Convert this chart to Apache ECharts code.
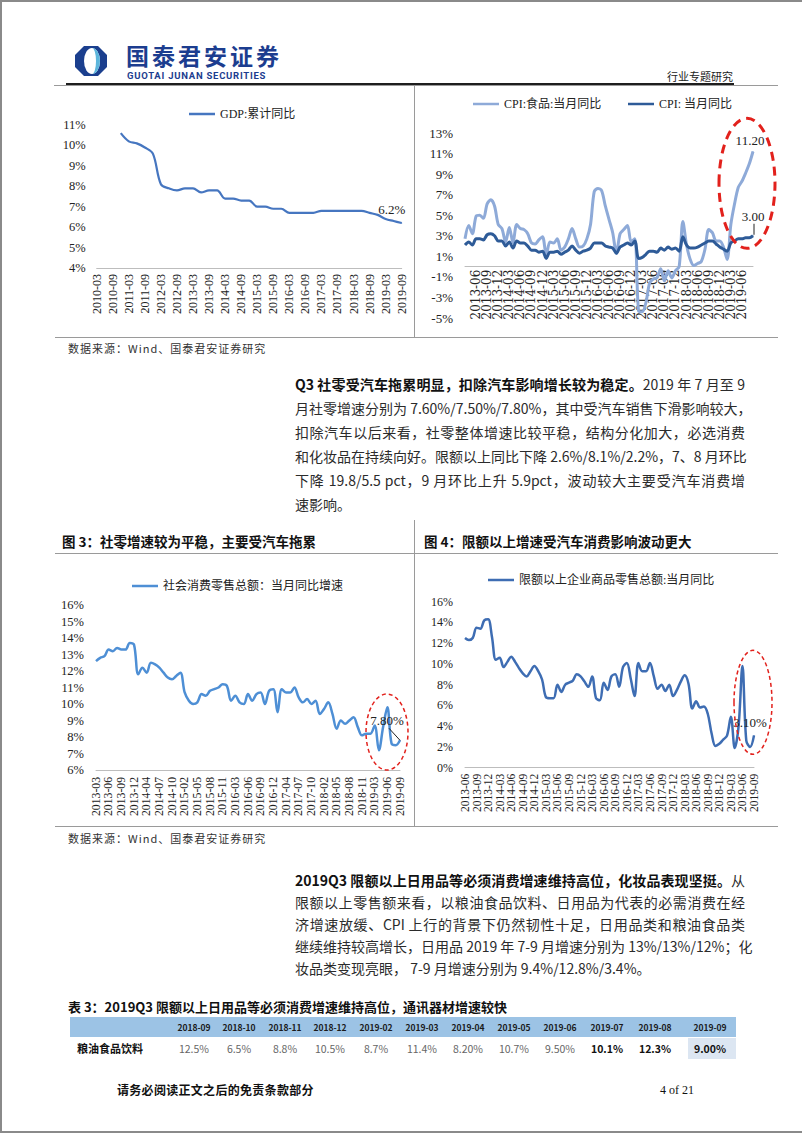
<!DOCTYPE html>
<html lang="zh-CN">
<head>
<meta charset="utf-8">
<title>行业专题研究</title>
<script src="https://cdn.jsdelivr.net/npm/echarts@6/dist/echarts.min.js"></script>
<style>
html,body{margin:0;padding:0;background:#fff;}
#page{position:relative;width:802px;height:1133px;overflow:hidden;background:#fff;font-family:"Noto Sans CJK SC","Noto Sans",sans-serif;color:#222;}
.h{position:absolute;height:1px;background:#9a9a9a;z-index:5;}
.v{position:absolute;width:1px;background:#9a9a9a;z-index:5;}
.t{position:absolute;white-space:nowrap;}
.src{position:absolute;left:68px;font-size:11px;color:#333;letter-spacing:1px;line-height:14px;white-space:nowrap;}
.para{position:absolute;left:295px;width:450px;font-size:14px;color:#2b2b2b;}
.para div{line-height:24px;height:24px;white-space:nowrap;text-align:justify;text-align-last:justify;}
.para.p2 div{line-height:22px;height:22px;}
.para div.last{text-align-last:left;}
.para b{color:#111;font-weight:700;}
.ftitle{position:absolute;top:532px;font-size:13.5px;font-weight:700;color:#111;letter-spacing:0px;line-height:18px;white-space:nowrap;}
.chart{position:absolute;}
.th{position:absolute;top:1017px;width:56px;margin-left:-28px;text-align:center;font-size:8.5px;font-weight:700;color:#1a1a1a;line-height:20px;}
.td{position:absolute;top:1038px;width:56px;margin-left:-28px;text-align:center;font-size:10.5px;color:#666;line-height:21px;}
.td.b{color:#111;font-weight:700;}
</style>
</head>
<body>
<div id="page">
  <!-- page frame -->
  <div class="h" style="left:0;top:0;width:802px;height:2px;background:#8a8a8a"></div>
  <div class="v" style="left:0;top:0;height:1133px;width:2px;background:#8a8a8a"></div>
  <div class="h" style="left:0;top:1131px;width:802px;height:2px;background:#8a8a8a"></div>

  <!-- header -->
  <svg style="position:absolute;left:74px;top:45px" width="34" height="32" viewBox="0 0 34 32">
    <polygon points="10,1 24,1 33,10 33,22 24,31 10,31 1,22 1,10" fill="#1b3f8e"/>
    <ellipse cx="18" cy="16" rx="8" ry="13" fill="#ffffff"/>
    <path d="M18,3 A8,13 0 0,1 18,29 A4,13 0 0,0 18,3 Z" fill="#5db6dc"/>
  </svg>
  <div class="t" style="left:126px;top:43px;font-size:23px;line-height:25px;font-weight:700;color:#1c3d8f;letter-spacing:3px">国泰君安证券</div>
  <div class="t" style="left:127px;top:71px;font-size:9.5px;line-height:10px;font-weight:700;color:#1c3d8f;letter-spacing:0.75px;font-family:Roboto,'Noto Sans',sans-serif">GUOTAI JUNAN SECURITIES</div>
  <div class="t" style="left:667px;top:69px;font-size:11px;line-height:14px;color:#222">行业专题研究</div>
  <div class="h" style="left:66px;top:83px;width:668px;height:2px;background:#1e1e1e"></div>
  <div class="h" style="left:54px;top:85px;width:724px;"></div>

  <!-- top charts frame -->
  <div class="v" style="left:414px;top:86px;height:251px"></div>
  <div class="h" style="left:55px;top:337px;width:723px"></div>
  <div id="c1" class="chart" style="left:60px;top:88px;width:352px;height:250px"></div>
  <div id="c2" class="chart" style="left:410px;top:88px;width:392px;height:250px"></div>

  <div class="src" style="top:341px">数据来源：Wind、国泰君安证券研究</div>

  <div class="para" style="top:372px">
    <div><b>Q3 社零受汽车拖累明显，扣除汽车影响增长较为稳定。</b>2019 年 7 月至 9</div>
    <div>月社零增速分别为 7.60%/7.50%/7.80%，其中受汽车销售下滑影响较大，</div>
    <div>扣除汽车以后来看，社零整体增速比较平稳，结构分化加大，必选消费</div>
    <div>和化妆品在持续向好。限额以上同比下降 2.6%/8.1%/2.2%，7、8 月环比</div>
    <div>下降 19.8/5.5 pct，9 月环比上升 5.9pct，波动较大主要受汽车消费增</div>
    <div class="last">速影响。</div>
  </div>

  <!-- figure 3 / 4 frame -->
  <div class="ftitle" style="left:62px">图 3：社零增速较为平稳，主要受汽车拖累</div>
  <div class="ftitle" style="left:424px">图 4：限额以上增速受汽车消费影响波动更大</div>
  <div class="h" style="left:55px;top:553px;width:723px"></div>
  <div class="v" style="left:414px;top:520px;height:306px"></div>
  <div class="h" style="left:55px;top:826px;width:723px"></div>
  <div id="c3" class="chart" style="left:55px;top:560px;width:357px;height:265px"></div>
  <div id="c4" class="chart" style="left:412px;top:560px;width:390px;height:265px"></div>

  <div class="src" style="top:831px">数据来源：Wind、国泰君安证券研究</div>

  <div class="para p2" style="top:869px">
    <div><b>2019Q3 限额以上日用品等必须消费增速维持高位，化妆品表现坚挺。</b>从</div>
    <div>限额以上零售额来看，以粮油食品饮料、日用品为代表的必需消费在经</div>
    <div>济增速放缓、CPI 上行的背景下仍然韧性十足，日用品类和粮油食品类</div>
    <div>继续维持较高增长，日用品 2019 年 7-9 月增速分别为 13%/13%/12%；化</div>
    <div class="last">妆品类变现亮眼， 7-9 月增速分别为 9.4%/12.8%/3.4%。</div>
  </div>

  <!-- table -->
  <div class="t" style="left:68px;top:998px;font-size:13px;line-height:18px;font-weight:700;color:#111;letter-spacing:0px">表 3：2019Q3 限额以上日用品等必须消费增速维持高位，通讯器材增速较快</div>
  <div style="position:absolute;left:70px;top:1017px;width:666px;height:20px;background:#9cc3e5"></div>
  <div style="position:absolute;left:688px;top:1038px;width:48px;height:21px;background:#dce6f2"></div>
  <div id="tbl"></div>
  <div class="t" style="left:77px;top:1040px;font-size:11px;line-height:17px;font-weight:700;color:#111">粮油食品饮料</div>

  <!-- footer -->
  <div class="t" style="left:117px;top:1082px;font-size:12px;line-height:16px;font-weight:700;color:#111;letter-spacing:0.3px">请务必阅读正文之后的免责条款部分</div>
  <div class="t" style="left:660px;top:1082px;font-size:12px;line-height:16px;color:#111;font-family:'Liberation Serif',serif">4 of 21</div>
</div>

<script>
// ---------------- data ----------------
const gdpQuarters = ['2010-03','2010-06','2010-09','2010-12','2011-03','2011-06','2011-09','2011-12',
  '2012-03','2012-06','2012-09','2012-12','2013-03','2013-06','2013-09','2013-12',
  '2014-03','2014-06','2014-09','2014-12','2015-03','2015-06','2015-09','2015-12',
  '2016-03','2016-06','2016-09','2016-12','2017-03','2017-06','2017-09','2017-12',
  '2018-03','2018-06','2018-09','2018-12','2019-03','2019-06','2019-09'];
const gdpYoY = [null,null,null,10.6, 10.2,10.1,9.9,9.6, 8.1,7.9,7.8,7.9, 7.9,7.7,7.8,7.8,
  7.4,7.4,7.3,7.3, 7.0,7.0,6.9,6.9, 6.7,6.7,6.7,6.7, 6.8,6.8,6.8,6.8, 6.8,6.8,6.7,6.6, 6.4,6.3,6.2];

function monthRange(y0, m0, y1, m1, skipJan) {
  const out = [];
  for (let y = y0, m = m0; y < y1 || (y === y1 && m <= m1); ) {
    if (!(skipJan && m === 1)) out.push(y + '-' + (m < 10 ? '0' + m : m));
    m++; if (m > 12) { m = 1; y++; }
  }
  return out;
}
const cpiMonths = monthRange(2013, 3, 2019, 9, false);      // 79
const cpiFood = [2.7,4.0,3.2,4.9,5.0,4.7,6.1,6.5,5.9,4.1,
  3.7,2.4,3.8,2.3,4.1,3.7,3.6,3.2,2.3,2.2,2.6,2.9,
  1.1,2.4,2.3,2.7,1.6,1.9,2.7,3.7,2.7,1.9,2.0,2.7,
  4.1,7.3,7.6,7.4,5.9,4.6,3.3,1.3,3.2,3.6,4.0,2.4,
  2.7,-4.3,-4.4,-3.5,-1.6,-1.2,-1.1,-0.2,-1.4,-0.4,-1.1,-0.4,
  0.0,4.4,2.1,0.7,0.1,0.3,0.5,1.7,3.6,3.3,2.5,2.5,
  1.9,0.7,4.1,6.1,7.7,8.3,9.1,10.0,11.2];
const cpiAll = [2.1,2.4,2.1,2.7,2.7,2.6,3.1,3.2,3.0,2.5,
  2.5,2.0,2.4,1.8,2.5,2.3,2.3,2.0,1.6,1.6,1.4,1.5,
  0.8,1.4,1.4,1.5,1.2,1.4,1.6,2.0,1.6,1.3,1.5,1.6,
  1.8,2.3,2.3,2.3,2.0,1.9,1.8,1.3,1.9,2.1,2.3,2.1,
  2.5,0.8,0.9,1.2,1.5,1.5,1.4,1.8,1.6,1.9,1.7,1.8,
  1.5,2.9,2.1,1.8,1.8,1.9,2.1,2.3,2.5,2.5,2.2,1.9,
  1.7,1.5,2.3,2.5,2.7,2.7,2.8,2.8,3.0];
const cpiTicks = [-5,-3,-1,1,3,5,7,9,11,13];

const retailMonths = monthRange(2013, 3, 2019, 9, true);    // 73, no January
const retailYoY = [12.6,12.8,12.9,13.3,13.2,13.4,13.3,13.3,13.7,13.6,
  11.8,12.2,11.9,12.5,12.4,12.2,11.9,11.6,11.5,11.7,11.9,
  10.7,10.2,10.0,10.1,10.6,10.5,10.8,10.9,11.0,11.2,11.1,
  10.2,10.5,10.1,10.0,10.6,10.2,10.6,10.7,10.0,10.8,10.9,
  9.5,10.9,10.7,10.7,11.0,10.4,10.1,10.3,10.0,10.2,9.4,
  9.7,10.1,9.4,8.5,9.0,8.8,9.0,9.2,8.6,8.1,8.2,
  8.2,8.7,7.2,8.6,9.8,7.6,7.5,7.8];

const aboveMonths = monthRange(2013, 6, 2019, 9, false);    // 76
const aboveYoY = [12.5,12.3,12.5,13.5,13.4,14.2,14.3,12.6,10.4,10.6,9.7,10.2,
  10.7,10.2,9.6,9.1,8.8,9.3,9.8,9.3,8.5,6.8,6.7,6.7,
  8.0,7.3,8.0,8.2,8.4,9.0,8.8,8.3,7.8,8.8,6.7,6.5,
  8.2,7.5,8.8,9.0,7.8,9.7,10.1,8.6,6.9,10.1,9.3,9.3,
  10.1,8.8,7.6,8.0,7.4,8.0,6.9,7.5,8.3,8.9,8.1,5.7,
  6.4,5.8,5.9,5.2,3.3,2.1,2.3,2.7,3.1,4.9,1.9,4.0,
  9.8,2.6,2.0,3.1];

const tableCols = ['2018-09','2018-10','2018-11','2018-12','2019-02','2019-03','2019-04','2019-05','2019-06','2019-07','2019-08','2019-09'];
const tableGrain = ['12.5%','6.5%','8.8%','10.5%','8.7%','11.4%','8.20%','10.7%','9.50%','10.1%','12.3%','9.00%'];
const tableBold = [false,false,false,false,false,false,false,false,false,true,true,true];

// ---------------- table ----------------
(function(){
  const xs = [194,239,285,330,376,422,468,514,560,607,655,710];
  let html = '';
  tableCols.forEach((c,i)=>{ html += '<div class="th" style="left:'+xs[i]+'px">'+c+'</div>'; });
  tableGrain.forEach((v,i)=>{ html += '<div class="td'+(tableBold[i]?' b':'')+'" style="left:'+xs[i]+'px">'+v+'</div>'; });
  document.getElementById('tbl').innerHTML = html;
})();

// ---------------- charts ----------------
const SERIF = '"Liberation Serif","Noto Sans CJK SC",serif';
const AXC = '#bdbdbd';
const RED = '#e2211c';

function series(name, values, color, width, smooth, endLabel, yAxisIndex) {
  const last = values.length - 1;
  return {
    name: name, type: 'line', smooth: smooth, symbol: 'none', showSymbol: true, showAllSymbol: true,
    yAxisIndex: yAxisIndex || 0,
    lineStyle: { color: color, width: width }, itemStyle: { color: color },
    emphasis: { disabled: true }, silent: true,
    data: values.map((v, i) => (i === last && endLabel)
      ? { value: v, symbol: 'circle', symbolSize: 1,
          label: Object.assign({ show: true, position: 'top', fontFamily: SERIF, fontSize: 13, color: '#222' }, endLabel) }
      : v)
  };
}
function legend(name, left, top) {
  return { data: [name], left: left, top: top, icon: 'rect', itemWidth: 26, itemHeight: 2.5,
    textStyle: { fontFamily: SERIF, fontSize: 12, color: '#222' }, selectedMode: false };
}
function xCat(cats, interval, fontSize, margin, family, offset) {
  return { type: 'category', data: cats, boundaryGap: false, position: 'bottom', offset: offset || 0,
    axisLine: { show: true, onZero: false, lineStyle: { color: AXC, width: 1 } },
    axisTick: { show: false }, splitLine: { show: false },
    axisLabel: { interval: interval, rotate: 90, fontSize: fontSize, margin: margin, color: '#222', fontFamily: family || SERIF } };
}
function yVal(min, max, interval, fontSize, margin) {
  return { type: 'value', position: 'left', min: min, max: max, interval: interval,
    axisLine: { show: false }, axisTick: { show: false }, splitLine: { show: false },
    axisLabel: { formatter: '{value}%', fontSize: fontSize, margin: margin, color: '#222', fontFamily: SERIF } };
}
const base = { animation: false, textStyle: { fontFamily: SERIF } };

// GDP
const c1 = echarts.init(document.getElementById('c1'), null, { renderer: 'svg' });
c1.setOption(Object.assign({}, base, {
  legend: legend('GDP:累计同比', 124, 15),
  grid: { left: 36.7, top: 37, width: 305, height: 143, containLabel: false, outerBoundsMode: 'none' },
  xAxis: xCat(gdpQuarters, 1, 12, 6),
  yAxis: yVal(4, 11, 1, 12.5, 11),
  series: [series('GDP:累计同比', gdpYoY, '#4676c0', 2.2, 0.35, { formatter: '6.2%', offset: [-10, -2] })]
}));

// CPI : data axis spans -5..13; a twin label axis (0..18, multiples of 2) prints the tick labels
const c2 = echarts.init(document.getElementById('c2'), null, { renderer: 'svg' });
const cpiMin = cpiTicks[0], cpiMax = cpiTicks[cpiTicks.length - 1];
const cpiGrid = { left: 55, top: 45, width: 288, height: 185, containLabel: false, outerBoundsMode: 'none' };
const cpiLabelAxis = yVal(0, cpiMax - cpiMin, 2, 13, 12);
cpiLabelAxis.axisLabel.formatter = function (v) { return (v + cpiMin) + '%'; };
const cpiDataAxis = yVal(cpiMin, cpiMax, 2, 13, 12);
cpiDataAxis.axisLabel = { show: false };
// x axis sits on the 0% line
const cpiZeroOffset = -cpiGrid.height * (0 - cpiMin) / (cpiMax - cpiMin);
c2.setOption(Object.assign({}, base, {
  legend: [legend('CPI:食品:当月同比', 58, 5), legend('CPI: 当月同比', 213, 5)],
  grid: cpiGrid,
  xAxis: xCat(cpiMonths, 2, 12, 3, '"DejaVu Serif",serif', cpiZeroOffset),
  yAxis: [cpiDataAxis, cpiLabelAxis],
  series: [
    series('CPI:食品:当月同比', cpiFood, '#8eaad8', 3, 0.3, { formatter: '11.20', offset: [-3, 1] }, 0),
    series('CPI: 当月同比', cpiAll, '#2e5b98', 3, 0.3, { formatter: '3.00', offset: [0, -7] }, 0)
  ]
}));

// Retail
const c3 = echarts.init(document.getElementById('c3'), null, { renderer: 'svg' });
c3.setOption(Object.assign({}, base, {
  legend: legend('社会消费零售总额：当月同比增速', 72, 15),
  grid: { left: 41, top: 45, width: 304, height: 165, containLabel: false, outerBoundsMode: 'none' },
  xAxis: xCat(retailMonths, 2, 11.7, 7),
  yAxis: yVal(6, 16, 1, 12.5, 12),
  series: [series('社会消费零售总额：当月同比增速', retailYoY, '#4e8fd5', 2.5, 0.35, { formatter: '7.80%', offset: [-13, -8] })]
}));

// Above-limit retail
const c4 = echarts.init(document.getElementById('c4'), null, { renderer: 'svg' });
c4.setOption(Object.assign({}, base, {
  legend: legend('限额以上企业商品零售总额:当月同比', 71, 9),
  grid: { left: 53, top: 41.7, width: 289, height: 166, containLabel: false, outerBoundsMode: 'none' },
  xAxis: xCat(aboveMonths, 2, 11.5, 6),
  yAxis: yVal(0, 16, 2, 12, 12),
  series: [series('限额以上企业商品零售总额:当月同比', aboveYoY, '#3e6db3', 2.5, 0.35, { formatter: '3.10%', offset: [-4, -1] })]
}));

// ---------------- annotations (positioned from data points) ----------------
function px(chart, cat, val) { return chart.convertToPixel({ xAxisIndex: 0, yAxisIndex: 0 }, [cat, val]); }
(function () {
  const lastC = cpiMonths[cpiMonths.length - 1];
  const e2 = px(c2, lastC, 8.1);
  const p2 = px(c2, lastC, cpiAll[cpiAll.length - 1]);
  c2.setOption({ graphic: [
    { type: 'ellipse', z: 100, silent: true, shape: { cx: e2[0] - 6, cy: e2[1], rx: 28, ry: 65 },
      style: { fill: 'none', stroke: RED, lineWidth: 3, lineDash: [9, 6] } },
    { type: 'line', z: 100, silent: true, shape: { x1: p2[0] + 1, y1: p2[1] - 1, x2: p2[0] + 1, y2: p2[1] - 12 },
      style: { stroke: '#222', lineWidth: 1 } }
  ] });

  const lastR = retailMonths[retailMonths.length - 1];
  const e3 = px(c3, lastR, 8.3);
  const p3 = px(c3, lastR, retailYoY[retailYoY.length - 1]);
  c3.setOption({ graphic: [
    { type: 'ellipse', z: 100, silent: true, shape: { cx: e3[0] - 13, cy: e3[1], rx: 21, ry: 38 },
      style: { fill: 'none', stroke: RED, lineWidth: 1.5, lineDash: [4, 3] } },
    { type: 'line', z: 100, silent: true, shape: { x1: p3[0], y1: p3[1], x2: p3[0] - 11, y2: p3[1] - 12 },
      style: { stroke: '#222', lineWidth: 1 } }
  ] });

  const lastA = aboveMonths[aboveMonths.length - 1];
  const e4 = px(c4, lastA, 6.3);
  c4.setOption({ graphic: [
    { type: 'ellipse', z: 100, silent: true, shape: { cx: e4[0] - 1, cy: e4[1], rx: 19, ry: 52 },
      style: { fill: 'none', stroke: RED, lineWidth: 1.5, lineDash: [4, 3] } }
  ] });
})();
</script>
</body>
</html>
